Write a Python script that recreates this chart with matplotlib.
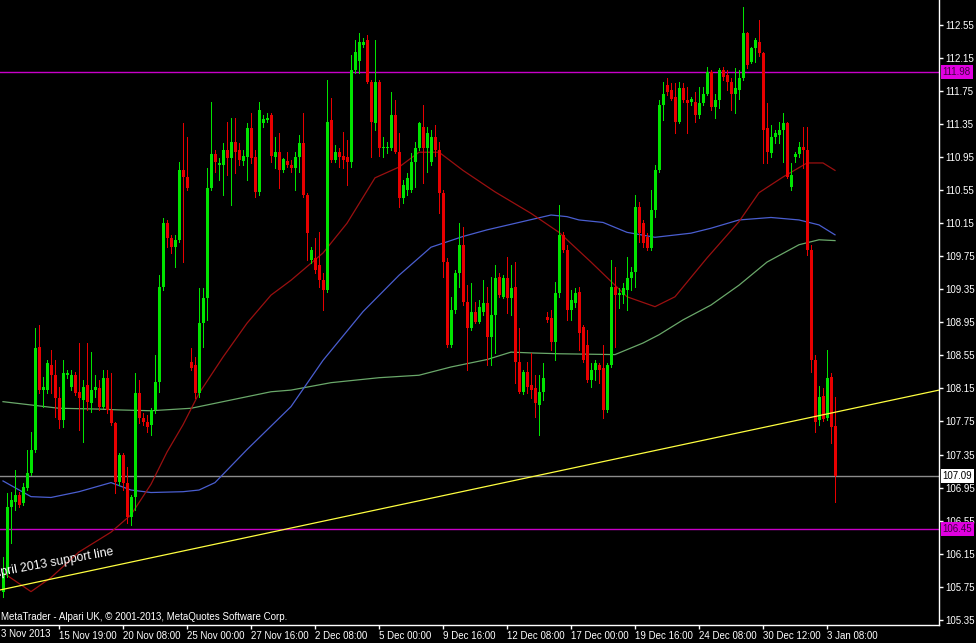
import matplotlib.pyplot as plt
import numpy as np

plt.rcParams['font.family'] = ['Liberation Sans', 'DejaVu Sans']

# USDJPY-style H4 candles
opens = [
    105.68, 105.92, 106.72, 106.78, 106.86, 106.76, 106.95, 107.13, 107.41, 108.65,
    108.13, 108.13, 108.43, 108.31, 108.03, 107.77, 108.31, 108.17, 108.31, 108.11,
    108.01, 108.19, 107.97, 108.13, 108.16, 107.93, 108.28, 107.89, 107.73, 107.02,
    107.35, 107.01, 106.59, 106.84, 108.09, 107.79, 107.74, 107.71, 107.89, 108.23,
    109.38, 110.15, 109.97, 109.86, 109.95, 110.79, 110.71, 108.47, 108.43, 108.09,
    108.94, 109.25, 110.58, 110.99, 110.85, 110.85, 111.04, 110.94, 111.13, 111.04,
    110.90, 110.95, 111.30, 110.95, 110.53, 111.36, 111.40, 111.46, 110.95, 111.01,
    110.79, 110.90, 110.85, 110.82, 110.95, 111.12, 110.49, 109.70, 109.73, 109.65,
    109.46, 109.34, 111.40, 110.91, 111.01, 110.97, 110.95, 110.89, 112.00, 112.12,
    112.31, 112.37, 111.86, 111.36, 111.86, 111.06, 111.06, 111.06, 111.46, 111.01,
    110.46, 110.55, 110.55, 110.89, 111.06, 111.31, 111.06, 110.89, 111.19, 111.04,
    110.52, 109.68, 108.68, 109.10, 109.55, 109.89, 109.20, 108.88, 109.08, 108.95,
    109.08, 109.18, 108.77, 109.04, 109.50, 109.26, 109.49, 109.25, 109.38, 108.47,
    108.11, 108.35, 108.19, 108.16, 107.95, 108.11, 109.01, 109.00, 108.71, 109.31,
    110.01, 109.83, 109.10, 109.18, 109.32, 108.89, 108.68, 108.25, 108.37, 108.43,
    108.40, 107.89, 108.43, 109.38, 109.28, 109.28, 109.34, 109.49, 109.56, 110.35,
    110.15, 109.98, 109.85, 110.31, 110.79, 111.58, 111.82, 111.76, 111.68, 111.37,
    111.79, 111.64, 111.62, 111.62, 111.46, 111.60, 111.72, 111.98, 111.56, 111.64,
    112.00, 111.94, 111.86, 111.72, 111.76, 111.91, 112.45, 112.10, 112.27, 112.34,
    112.21, 111.30, 111.00, 111.19, 111.22, 111.28, 111.36, 110.59, 110.95, 110.99,
    111.07, 111.04, 109.83, 108.49, 107.77, 108.06, 107.79, 108.29, 107.70,
]
highs = [
    106.11, 106.88, 106.90, 107.16, 106.90, 107.01, 107.41, 107.62, 108.88, 108.92,
    108.29, 108.49, 108.62, 108.49, 108.17, 108.49, 108.37, 108.37, 108.35, 108.70,
    108.25, 108.70, 108.59, 108.31, 108.25, 108.37, 108.37, 108.34, 107.74, 107.37,
    107.37, 107.20, 106.86, 108.34, 108.25, 107.85, 107.83, 107.91, 108.56, 109.52,
    110.21, 110.19, 110.01, 110.01, 110.89, 111.36, 111.19, 108.64, 108.53, 109.37,
    109.37, 110.82, 111.62, 111.04, 110.94, 111.12, 111.37, 111.43, 111.42, 111.12,
    111.04, 111.36, 111.49, 111.04, 111.62, 111.46, 111.48, 111.49, 111.19, 111.24,
    110.94, 111.01, 110.91, 111.01, 111.22, 111.48, 110.52, 109.86, 109.97, 110.05,
    109.55, 111.88, 111.67, 111.10, 111.06, 111.26, 111.16, 112.19, 112.37, 112.45,
    112.39, 112.43, 111.88, 112.37, 111.88, 111.19, 111.13, 111.74, 111.64, 111.24,
    110.67, 110.76, 111.00, 111.13, 111.37, 111.58, 111.31, 111.28, 111.34, 111.13,
    110.55, 109.73, 109.26, 109.59, 110.15, 110.10, 109.40, 109.43, 109.20, 109.22,
    109.46, 109.38, 109.50, 109.65, 109.55, 109.52, 109.74, 109.65, 109.68, 108.88,
    108.37, 108.47, 108.58, 108.31, 108.31, 108.46, 109.08, 109.10, 109.44, 110.37,
    110.04, 109.89, 109.34, 109.37, 109.38, 108.92, 108.86, 108.46, 108.49, 108.46,
    108.68, 108.46, 109.70, 109.62, 109.37, 109.43, 109.74, 109.62, 110.49, 110.41,
    110.19, 110.03, 110.55, 110.85, 111.64, 111.86, 111.91, 111.85, 111.85, 111.86,
    111.85, 111.80, 111.68, 111.74, 111.80, 111.80, 112.04, 112.00, 111.72, 112.03,
    112.04, 112.00, 111.91, 112.03, 112.00, 112.77, 112.46, 112.28, 112.39, 112.61,
    112.22, 111.60, 111.34, 111.28, 111.37, 111.48, 111.37, 110.88, 111.01, 111.13,
    111.31, 111.31, 109.89, 108.55, 108.18, 108.16, 108.62, 108.34, 108.05,
]
lows = [
    105.63, 105.87, 106.28, 106.68, 106.72, 106.74, 106.92, 107.10, 107.38, 108.09,
    107.93, 108.09, 108.09, 107.80, 107.67, 107.68, 108.28, 108.13, 108.07, 107.65,
    107.50, 107.89, 107.87, 108.05, 107.89, 107.91, 107.85, 107.71, 106.88, 106.98,
    106.92, 106.52, 106.50, 106.68, 107.73, 107.71, 107.62, 107.59, 107.85, 108.11,
    109.34, 109.86, 109.79, 109.62, 109.92, 109.68, 110.55, 108.37, 108.03, 108.05,
    108.65, 108.98, 110.55, 110.77, 110.67, 110.49, 110.73, 110.37, 110.76, 110.85,
    110.85, 110.67, 110.88, 110.47, 110.49, 111.31, 111.37, 110.89, 110.82, 110.58,
    110.77, 110.83, 110.77, 110.55, 110.77, 110.47, 109.70, 109.67, 109.55, 109.38,
    109.10, 109.32, 110.89, 110.89, 110.83, 110.82, 110.61, 110.83, 111.97, 111.97,
    112.28, 111.85, 110.95, 111.28, 110.97, 110.95, 111.00, 111.04, 111.00, 110.35,
    110.39, 110.49, 110.53, 110.59, 111.04, 110.64, 110.77, 110.85, 110.97, 110.28,
    109.50, 108.65, 108.65, 109.06, 109.38, 109.16, 108.37, 108.86, 108.94, 108.94,
    109.04, 108.43, 108.43, 108.58, 109.26, 109.25, 109.06, 109.04, 108.22, 108.09,
    108.08, 108.09, 108.03, 107.80, 107.59, 108.01, 108.95, 108.62, 108.49, 109.26,
    109.80, 108.98, 108.98, 109.14, 108.62, 108.47, 108.23, 108.17, 108.25, 108.22,
    107.79, 107.87, 108.41, 108.65, 109.12, 109.18, 109.10, 109.34, 109.38, 109.92,
    109.86, 109.83, 109.83, 110.22, 110.77, 111.40, 111.70, 111.64, 111.24, 111.36,
    111.62, 111.24, 111.58, 111.37, 111.43, 111.58, 111.70, 111.52, 111.42, 111.54,
    111.88, 111.76, 111.52, 111.48, 111.66, 111.88, 112.03, 112.09, 112.10, 112.18,
    110.88, 110.88, 110.95, 111.12, 111.12, 110.89, 110.70, 110.55, 110.89, 110.95,
    110.82, 109.76, 108.35, 107.62, 107.71, 107.76, 107.77, 107.49, 106.78,
]
closes = [
    105.92, 106.72, 106.80, 106.86, 106.74, 106.96, 107.13, 107.41, 108.64, 108.13,
    108.17, 108.46, 108.31, 108.03, 107.77, 108.34, 108.34, 108.31, 108.09, 108.03,
    108.17, 107.99, 108.13, 108.17, 107.93, 108.28, 107.89, 107.73, 107.02, 107.35,
    107.01, 106.59, 106.84, 108.09, 107.79, 107.74, 107.68, 107.89, 108.23, 109.38,
    110.15, 109.97, 109.86, 109.95, 110.79, 110.71, 110.58, 108.40, 108.09, 108.94,
    109.25, 110.58, 110.99, 110.89, 110.88, 111.04, 110.94, 111.13, 111.01, 110.91,
    110.96, 111.30, 110.94, 110.53, 111.52, 111.41, 111.43, 110.97, 111.01, 110.79,
    110.93, 110.85, 110.82, 110.95, 111.12, 110.49, 110.03, 109.83, 109.59, 109.46,
    109.34, 111.37, 110.91, 111.01, 110.95, 110.91, 110.89, 112.00, 112.22, 112.34,
    112.34, 111.86, 111.37, 111.86, 111.06, 111.07, 111.07, 111.46, 111.01, 110.46,
    110.61, 110.70, 110.89, 111.06, 111.36, 111.06, 111.24, 111.19, 111.04, 110.52,
    109.68, 108.68, 109.10, 109.55, 109.89, 109.20, 108.88, 109.08, 108.95, 109.14,
    109.18, 108.77, 109.04, 109.49, 109.28, 109.49, 109.25, 109.37, 108.47, 108.11,
    108.35, 108.17, 108.13, 107.97, 108.11, 108.28, 108.98, 108.71, 109.31, 110.01,
    109.83, 109.10, 109.22, 109.31, 108.82, 108.49, 108.25, 108.37, 108.46, 108.37,
    107.89, 108.43, 109.38, 109.28, 109.31, 109.37, 109.49, 109.56, 110.35, 110.03,
    109.91, 109.85, 110.31, 110.79, 111.58, 111.72, 111.74, 111.66, 111.37, 111.79,
    111.64, 111.60, 111.65, 111.46, 111.60, 111.72, 111.98, 111.56, 111.64, 112.00,
    111.92, 111.86, 111.72, 111.79, 111.91, 112.45, 112.06, 112.27, 112.37, 112.21,
    111.28, 111.01, 111.19, 111.24, 111.28, 111.36, 110.71, 110.73, 110.99, 111.07,
    111.04, 109.83, 108.49, 107.74, 108.05, 107.78, 108.28, 107.68, 107.09,
]

# moving averages, sampled at bar indices
ma_red_x = [0, 7, 12, 19, 27, 32, 37, 41, 45, 49, 55, 61, 67, 72, 80, 86, 93, 99, 104,
            109, 115, 123, 132, 139, 147, 156, 163, 168, 176, 184, 189, 195, 201, 205, 208]
ma_red_y = [105.92, 105.69, 105.86, 106.17, 106.41, 106.62, 106.99, 107.38, 107.71, 108.09,
            108.53, 108.94, 109.28, 109.46, 109.79, 110.15, 110.70, 110.83, 111.01,
            111.01, 110.79, 110.53, 110.27, 110.04, 109.68, 109.26, 109.14, 109.26,
            109.73, 110.17, 110.52, 110.71, 110.88, 110.88, 110.79]
ma_blue_x = [0, 7, 12, 19, 27, 32, 37, 45, 49, 53, 61, 72, 80, 90, 99, 107, 115, 121, 129,
             137, 141, 144, 150, 156, 163, 172, 177, 184, 192, 199, 204, 208]
ma_blue_y = [107.03, 106.84, 106.83, 106.90, 107.01, 106.92, 106.89, 106.90, 106.92,
             107.01, 107.41, 107.93, 108.49, 109.08, 109.52, 109.86, 109.99, 110.07,
             110.16, 110.25, 110.23, 110.19, 110.16, 110.04, 109.98, 110.03, 110.09,
             110.19, 110.22, 110.19, 110.13, 110.01]
ma_green_x = [0, 7, 14, 24, 29, 37, 47, 57, 67, 72, 82, 94, 104, 112, 121, 127, 132, 139,
              153, 160, 164, 170, 177, 184, 191, 199, 204, 208]
ma_green_y = [107.99, 107.95, 107.91, 107.90, 107.89, 107.88, 107.91, 108.01, 108.11,
              108.13, 108.22, 108.28, 108.31, 108.41, 108.50, 108.59, 108.58, 108.57,
              108.56, 108.70, 108.80, 108.98, 109.16, 109.40, 109.68, 109.89, 109.95, 109.94]

# trend line anchors (bar index, price) and horizontal levels
trend_x = [-0.75, 234.0]
trend_y = [105.71, 108.13]
resistance = 111.98
support = 106.45
last_price = 107.09

x_labels = ['15 Nov 19:00', '20 Nov 08:00', '25 Nov 00:00', '27 Nov 16:00', '2 Dec 08:00',
            '5 Dec 00:00', '9 Dec 16:00', '12 Dec 08:00', '17 Dec 00:00', '19 Dec 16:00',
            '24 Dec 08:00', '30 Dec 12:00', '3 Jan 08:00']

bull = '#00e400'
bear = '#e80000'

fig = plt.figure(figsize=(9.76, 6.43), dpi=100, facecolor='black')
ax = fig.add_axes([0, 18 / 643, 939 / 976, 625 / 643], facecolor='black')
ax.set_xlim(-0.75, 234)
ax.set_ylim(105.286, 112.853)

o = np.array(opens)
h = np.array(highs)
l = np.array(lows)
c = np.array(closes)
idx = np.arange(len(c))
cols = [bull if cc >= oo else bear for oo, cc in zip(o, c)]

# levels and MAs behind candles
ax.axhline(resistance, color='#c800c8', lw=1, zorder=1)
ax.axhline(support, color='#c800c8', lw=1, zorder=1)
ax.axhline(last_price, color='#8c8c8c', lw=1, zorder=1)
ax.plot(ma_green_x, ma_green_y, color='#6aa86a', lw=0.9, zorder=2)
ax.plot(ma_blue_x, ma_blue_y, color='#4a5ed0', lw=0.9, zorder=2)
ax.plot(ma_red_x, ma_red_y, color='#9a1010', lw=0.9, zorder=2)

# wicks 1 px, bodies 3 px
ax.vlines(idx, l, h, colors=cols, lw=0.72, zorder=3, antialiased=False)
body = np.maximum(np.abs(c - o), 0.012)
ax.bar(idx, body, bottom=np.minimum(o, c), width=0.75, color=cols, lw=0, zorder=4,
       antialiased=False)

ax.plot(trend_x, trend_y, color='#ffff40', lw=0.9, zorder=5)
ax.text(-2.4, 105.87, 'April 2013 support line', color='white', fontsize=8.8,
        rotation=10.5, rotation_mode='anchor', ha='left', va='baseline', zorder=6)

# axes styling
for s in ['top', 'left']:
    ax.spines[s].set_visible(False)
for s in ['right', 'bottom']:
    ax.spines[s].set_color('white')
    ax.spines[s].set_linewidth(1)

yt = np.round(np.arange(105.35, 112.56, 0.4), 2)
ax.yaxis.tick_right()
ax.set_yticks(yt)
ax.set_yticklabels(['%.2f' % v for v in yt])
ax.tick_params(axis='y', colors='white', labelsize=7, length=3, pad=1.5, width=1)

ax.set_xticks(14 + 16 * np.arange(len(x_labels)))
ax.set_xticklabels(x_labels)
ax.tick_params(axis='x', colors='white', labelsize=7, length=3, pad=1.5, width=1)
for lbl in ax.get_xticklabels():
    lbl.set_ha('left')

fig.text(1 / 976, (643 - 634) / 643, '3 Nov 2013', color='white', fontsize=7,
         ha='left', va='center')
fig.text(1 / 976, (643 - 617) / 643, 'MetaTrader - Alpari UK, \u00a9 2001-2013, MetaQuotes Software Corp.',
         color='white', fontsize=7, ha='left', va='center')

# price tags on the right scale
ytr = ax.get_yaxis_transform()
for v, fc, tc in [(resistance, '#e000e0', '#400040'), (support, '#e000e0', '#400040'),
                  (last_price, 'white', 'black')]:
    ax.text(1.004, v, '%.2f' % v, transform=ytr, ha='left', va='center', fontsize=7,
            color=tc, clip_on=False, zorder=10,
            bbox=dict(boxstyle='square,pad=0.18', fc=fc, ec='none'))

fig.savefig('out.png', dpi=100, facecolor='black')
